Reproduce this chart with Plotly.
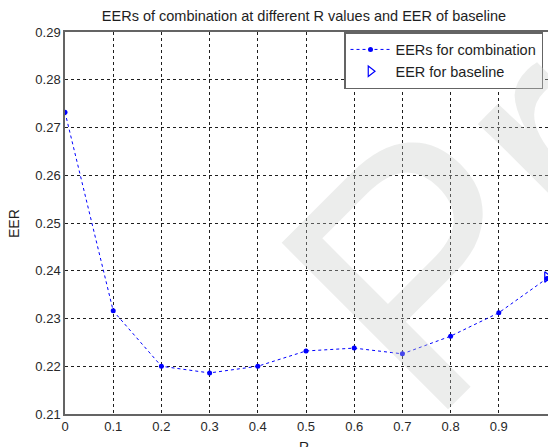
import plotly.graph_objects as go

r_values = [0.0, 0.1, 0.2, 0.3, 0.4, 0.5, 0.6, 0.7, 0.8, 0.9, 1.0]
eer_combination = [0.2732, 0.2316, 0.2200, 0.2186, 0.2200, 0.2232, 0.2238, 0.2226, 0.2263, 0.2312, 0.2384]
baseline_r = [1.0]
eer_baseline = [0.2387]
x_ticks = [0.0, 0.1, 0.2, 0.3, 0.4, 0.5, 0.6, 0.7, 0.8, 0.9, 1.0]
x_tick_labels = ["0", "0.1", "0.2", "0.3", "0.4", "0.5", "0.6", "0.7", "0.8", "0.9", "1"]
y_ticks = [0.21, 0.22, 0.23, 0.24, 0.25, 0.26, 0.27, 0.28, 0.29]
y_tick_labels = ["0.21", "0.22", "0.23", "0.24", "0.25", "0.26", "0.27", "0.28", "0.29"]

FONT = "Liberation Sans, Arial, sans-serif"
TXT = "rgb(30,30,30)"

fig = go.Figure()
fig.add_trace(go.Scatter(
    x=r_values, y=eer_combination, mode="lines+markers",
    name="EERs for combination",
    line=dict(color="rgb(0,0,255)", width=1, dash="3px,3px"),
    marker=dict(symbol="circle", size=5, color="rgb(0,0,255)"),
))
fig.add_trace(go.Scatter(
    x=baseline_r, y=eer_baseline, mode="markers",
    name="EER for baseline",
    marker=dict(symbol="triangle-right-open", size=9, color="rgb(0,0,255)",
                line=dict(width=1.2, color="rgb(0,0,255)")),
))

axis_common = dict(
    showline=True, linecolor="rgb(100,100,100)", linewidth=1.5, mirror=True,
    showgrid=True, gridcolor="rgb(30,30,30)", gridwidth=1, griddash="3px,3px",
    zeroline=False, ticks="", automargin=False,
    tickfont=dict(family=FONT, size=13, color="rgb(40,40,40)"),
)

fig.update_layout(
    width=548, height=447,
    margin=dict(l=65, r=0, t=32, b=33),
    paper_bgcolor="white", plot_bgcolor="white",
    font=dict(family=FONT, color=TXT),
    title=dict(text="EERs of combination at different R values and EER of baseline",
               x=(304 / 548), xanchor="center", y=1 - 16 / 447, yanchor="middle",
               font=dict(family=FONT, size=14.5, color=TXT)),
    xaxis=dict(range=[0, 483 / 482], tickvals=x_ticks, ticktext=x_tick_labels,
               **axis_common),
    yaxis=dict(range=[0.21, 0.29], tickvals=y_ticks, ticktext=y_tick_labels,
               **axis_common),
    legend=dict(x=(344 - 65) / 483, xanchor="left", y=1, yanchor="top",
                bgcolor="white", bordercolor="rgb(100,100,100)", borderwidth=1.5,
                font=dict(family=FONT, size=14.5, color=TXT),
                itemwidth=40),
    showlegend=True,
)

# axis titles placed as annotations (pixel-matched)
fig.add_annotation(
    text="R", xref="paper", yref="paper", x=(304 - 65) / 483, y=(414 - 437) / 382,
    xanchor="center", yanchor="top", showarrow=False,
    font=dict(family=FONT, size=14, color=TXT),
)
fig.add_annotation(
    text="EER", xref="paper", yref="paper", x=(14 - 65) / 483, y=(414 - 224) / 382,
    xanchor="center", yanchor="middle", textangle=-90, showarrow=False,
    font=dict(family=FONT, size=14, color=TXT),
)

# light background watermark
fig.add_annotation(
    text="Pr", xref="paper", yref="paper", x=(465 - 65) / 483, y=(414 - 224) / 382,
    xanchor="center", yanchor="middle", textangle=-45, showarrow=False,
    font=dict(family=FONT, size=342, color="rgba(200,204,200,0.35)"),
)

fig.write_html("out.html", config={"displayModeBar": False},
               post_script="document.body.style.margin='0';")
